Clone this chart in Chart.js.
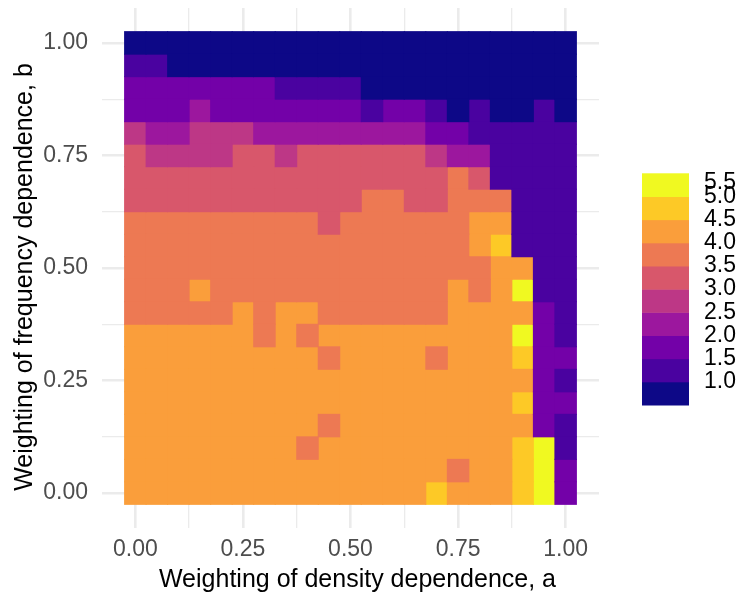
<!DOCTYPE html>
<html>
<head>
<meta charset="utf-8">
<script src="https://cdn.jsdelivr.net/npm/chart.js@4.4.1/dist/chart.umd.min.js"></script>
<style>
  html, body { margin: 0; padding: 0; background: #fff; }
</style>
</head>
<body>
<canvas id="heat" width="738" height="593"></canvas>
<script>
// weighting of density dependence (columns)
const aValues = [0.00, 0.05, 0.10, 0.15, 0.20, 0.25, 0.30, 0.35, 0.40, 0.45, 0.50,
                 0.55, 0.60, 0.65, 0.70, 0.75, 0.80, 0.85, 0.90, 0.95, 1.00]
// weighting of frequency dependence (rows, top row first)
const bValues = [1.00, 0.95, 0.90, 0.85, 0.80, 0.75, 0.70, 0.65, 0.60, 0.55, 0.50,
                 0.45, 0.40, 0.35, 0.30, 0.25, 0.20, 0.15, 0.10, 0.05, 0.00]

const levels = [1.0, 1.5, 2.0, 2.5, 3.0, 3.5, 4.0, 4.5, 5.0, 5.5]
const levelColors = ['#0D0887', '#4A02A0', '#7301A8', '#9C179E', '#BD3786',
                     '#D8576B', '#ED7953', '#FA9E3B', '#FDC926', '#F0F921']
const legendLabels = ['1.0', '1.5', '2.0', '2.5', '3.0', '3.5', '4.0', '4.5', '5.0', '5.5']

const tickValues = [0, 0.125, 0.25, 0.375, 0.5, 0.625, 0.75, 0.875, 1]
const majorTicks = [0, 0.25, 0.5, 0.75, 1]

const xTitle = 'Weighting of density dependence, a'
const yTitle = 'Weighting of frequency dependence, b'

// one row per b value (same order as bValues), one entry per a value
const cells = [
    [1, 1, 1, 1, 1, 1, 1, 1, 1, 1, 1, 1, 1, 1, 1, 1, 1, 1, 1, 1, 1],
    [1.5, 1.5, 1, 1, 1, 1, 1, 1, 1, 1, 1, 1, 1, 1, 1, 1, 1, 1, 1, 1, 1],
    [2, 2, 2, 2, 2, 2, 2, 1.5, 1.5, 1.5, 1.5, 1, 1, 1, 1, 1, 1, 1, 1, 1, 1],
    [2, 2, 2, 2.5, 2, 2, 2, 2, 2, 2, 2, 1.5, 2, 2, 1.5, 1, 1.5, 1, 1, 1.5, 1],
    [3, 2.5, 2.5, 3, 3, 3, 2.5, 2.5, 2.5, 2.5, 2.5, 2.5, 2.5, 2.5, 2, 2, 1.5, 1.5, 1.5, 1.5, 1.5],
    [3.5, 3, 3, 3, 3, 3.5, 3.5, 3, 3.5, 3.5, 3.5, 3.5, 3.5, 3.5, 3, 2.5, 2.5, 1.5, 1.5, 1.5, 1.5],
    [3.5, 3.5, 3.5, 3.5, 3.5, 3.5, 3.5, 3.5, 3.5, 3.5, 3.5, 3.5, 3.5, 3.5, 3.5, 4, 3.5, 1.5, 1.5, 1.5, 1.5],
    [3.5, 3.5, 3.5, 3.5, 3.5, 3.5, 3.5, 3.5, 3.5, 3.5, 3.5, 4, 4, 3.5, 3.5, 4, 4, 4, 1.5, 1.5, 1.5],
    [4, 4, 4, 4, 4, 4, 4, 4, 4, 3.5, 4, 4, 4, 4, 4, 4, 4.5, 4.5, 1.5, 1.5, 1.5],
    [4, 4, 4, 4, 4, 4, 4, 4, 4, 4, 4, 4, 4, 4, 4, 4, 4.5, 5, 1.5, 1.5, 1.5],
    [4, 4, 4, 4, 4, 4, 4, 4, 4, 4, 4, 4, 4, 4, 4, 4, 4, 4.5, 4.5, 1.5, 1.5],
    [4, 4, 4, 4.5, 4, 4, 4, 4, 4, 4, 4, 4, 4, 4, 4, 4.5, 4, 4.5, 5.5, 1.5, 1.5],
    [4, 4, 4, 4, 4, 4.5, 4, 4.5, 4.5, 4, 4, 4, 4, 4, 4, 4.5, 4.5, 4.5, 4.5, 2, 1.5],
    [4.5, 4.5, 4.5, 4.5, 4.5, 4.5, 4, 4.5, 4, 4.5, 4.5, 4.5, 4.5, 4.5, 4.5, 4.5, 4.5, 4.5, 5.5, 2, 1.5],
    [4.5, 4.5, 4.5, 4.5, 4.5, 4.5, 4.5, 4.5, 4.5, 4, 4.5, 4.5, 4.5, 4.5, 4, 4.5, 4.5, 4.5, 5, 2, 2],
    [4.5, 4.5, 4.5, 4.5, 4.5, 4.5, 4.5, 4.5, 4.5, 4.5, 4.5, 4.5, 4.5, 4.5, 4.5, 4.5, 4.5, 4.5, 4.5, 2, 1.5],
    [4.5, 4.5, 4.5, 4.5, 4.5, 4.5, 4.5, 4.5, 4.5, 4.5, 4.5, 4.5, 4.5, 4.5, 4.5, 4.5, 4.5, 4.5, 5, 2, 2],
    [4.5, 4.5, 4.5, 4.5, 4.5, 4.5, 4.5, 4.5, 4.5, 4, 4.5, 4.5, 4.5, 4.5, 4.5, 4.5, 4.5, 4.5, 4.5, 2, 1.5],
    [4.5, 4.5, 4.5, 4.5, 4.5, 4.5, 4.5, 4.5, 4, 4.5, 4.5, 4.5, 4.5, 4.5, 4.5, 4.5, 4.5, 4.5, 5, 5.5, 1.5],
    [4.5, 4.5, 4.5, 4.5, 4.5, 4.5, 4.5, 4.5, 4.5, 4.5, 4.5, 4.5, 4.5, 4.5, 4.5, 4, 4.5, 4.5, 5, 5.5, 2],
    [4.5, 4.5, 4.5, 4.5, 4.5, 4.5, 4.5, 4.5, 4.5, 4.5, 4.5, 4.5, 4.5, 4.5, 5, 4.5, 4.5, 4.5, 5, 5.5, 2]
]

const FONT = "'Liberation Sans', Arial, Helvetica, sans-serif"

// tile half sizes and ggplot-like 5% expansion
const halfA = (aValues[1] - aValues[0]) / 2
const halfB = Math.abs(bValues[0] - bValues[1]) / 2
function expanded(vals, half) {
    let lo = Math.min(...vals) - half
    let hi = Math.max(...vals) + half
    let pad = (hi - lo) * 0.05
    return [lo - pad, hi + pad]
}
const xRange = expanded(aValues, halfA)
const yRange = expanded(bValues, halfB)

let datasets = levels.map((lv, k) => ({
    label: legendLabels[k],
    data: [],
    backgroundColor: levelColors[k],
    borderWidth: 0,
    grouped: false,
    barPercentage: 1,
    categoryPercentage: 1,
    inflateAmount: 0.5
}))

for (let r = 0; r < bValues.length; r++) {
    for (let c = 0; c < aValues.length; c++) {
        let k = levels.indexOf(cells[r][c])
        datasets[k].data.push({x: aValues[c], y: [bValues[r] - halfB, bValues[r] + halfB]})
    }
}

function isMajor(v) {
    return majorTicks.some(m => Math.abs(m - v) < 1e-9)
}

function gridWidth(ctx) {
    return ctx.tick && isMajor(ctx.tick.value) ? 2.6 : 1.3
}

// axis titles and the stepped colour bar
const decorations = {
    id: 'decorations',
    afterDraw(chart) {
        const ctx = chart.ctx
        const area = chart.chartArea
        ctx.save()
        ctx.fillStyle = '#000000'
        ctx.font = '25px ' + FONT
        ctx.textAlign = 'center'
        ctx.textBaseline = 'alphabetic'
        ctx.fillText(xTitle, (area.left + area.right) / 2 + 7, 587)
        ctx.translate(32, (area.top + area.bottom) / 2 + 9)
        ctx.rotate(-Math.PI / 2)
        ctx.fillText(yTitle, 0, 0)
        ctx.restore()

        const left = 642, width = 47, top = 173.3, bandH = 23.17
        const n = levels.length
        ctx.save()
        for (let k = 0; k < n; k++) {
            let y = top + (n - 1 - k) * bandH
            ctx.fillStyle = levelColors[k]
            ctx.fillRect(left, y, width, bandH + 0.5)
        }
        ctx.fillStyle = '#000000'
        ctx.font = '23px ' + FONT
        ctx.textAlign = 'left'
        ctx.textBaseline = 'middle'
        for (let k = 0; k < n; k++) {
            let y = top + (n - 1 - k) * bandH
            y = Math.max(y, top + 9)
            ctx.fillText(legendLabels[k], left + 62, y)
        }
        ctx.restore()
    }
}

new Chart(document.getElementById('heat'), {
    type: 'bar',
    data: {datasets: datasets},
    options: {
        responsive: false,
        animation: false,
        devicePixelRatio: 1,
        layout: {padding: {top: 8, right: 139, left: 0, bottom: 0}},
        plugins: {
            legend: {display: false},
            tooltip: {enabled: false}
        },
        scales: {
            x: {
                type: 'linear',
                min: xRange[0],
                max: xRange[1],
                offset: false,
                grid: {offset: false, color: '#EBEBEB', lineWidth: gridWidth, drawTicks: false},
                border: {display: false},
                afterBuildTicks: s => { s.ticks = tickValues.map(v => ({value: v})) },
                afterFit: s => { s.height = 65; s.paddingLeft = 0; s.paddingRight = 0 },
                ticks: {
                    autoSkip: false,
                    maxRotation: 0,
                    padding: 8,
                    color: '#4D4D4D',
                    font: {family: FONT, size: 23},
                    callback: v => isMajor(v) ? v.toFixed(2) : ''
                }
            },
            y: {
                type: 'linear',
                min: yRange[0],
                max: yRange[1],
                grid: {color: '#EBEBEB', lineWidth: gridWidth, drawTicks: false},
                border: {display: false},
                afterBuildTicks: s => { s.ticks = tickValues.map(v => ({value: v})) },
                afterFit: s => { s.width = 102; s.paddingTop = 0; s.paddingBottom = 0 },
                ticks: {
                    autoSkip: false,
                    padding: 14,
                    color: '#4D4D4D',
                    font: {family: FONT, size: 23},
                    callback: v => isMajor(v) ? v.toFixed(2) : ''
                }
            }
        }
    },
    plugins: [decorations]
})
</script>
</body>
</html>
